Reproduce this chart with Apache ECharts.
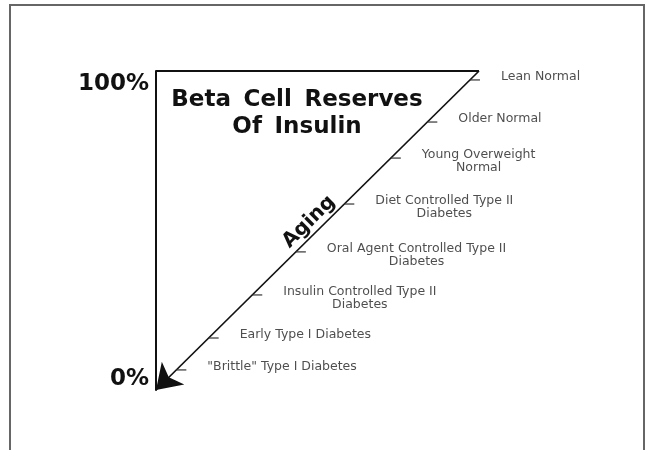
<!DOCTYPE html>
<html><head><meta charset="utf-8">
<script src="https://cdn.jsdelivr.net/npm/echarts@6/dist/echarts.min.js"></script>
<style>html,body{margin:0;padding:0;background:#fff}#c{width:648px;height:450px}</style>
</head><body><div id="c"></div>
<script>
// ---- data ----
const stageNames = [
  'Lean Normal',
  'Older Normal',
  'Young Overweight\nNormal',
  'Diet Controlled Type II\nDiabetes',
  'Oral Agent Controlled Type II\nDiabetes',
  'Insulin Controlled Type II\nDiabetes',
  'Early Type I Diabetes',
  '"Brittle" Type I Diabetes'
];
const reservePct = [97.2, 84.0, 72.7, 58.3, 43.3, 29.8, 16.3, 6.3];
const axisTickValues = [0, 100];
const axisTickLabels = ['0%', '100%'];
const titleLines = ['Beta Cell Reserves', 'Of Insulin'];
const arrowLabel = 'Aging';

// ---- chart ----
const wideTitle = s => s.replace(/ /g, ' \u2009');
const chart = echarts.init(document.getElementById('c'), null, {renderer: 'canvas'});
const labFont = {fontFamily: 'DejaVu Sans', fontSize: 12.5, color: '#222', lineHeight: 13};
const bigFont = {fontFamily: 'DejaVu Sans', fontWeight: 'bold', fontSize: 23, color: '#111'};
chart.setOption({
  animation: false,
  backgroundColor: '#fff',
  graphic: [{
    type: 'rect', silent: true,
    shape: {x: 10, y: 5, width: 634, height: 470},
    style: {fill: 'none', stroke: '#666', lineWidth: 2}
  }],
  title: {
    text: titleLines.map(wideTitle).join('\n'),
    left: 297, top: 87, padding: 0, textAlign: 'center',
    textStyle: Object.assign({}, bigFont, {lineHeight: 27})
  },
  grid: {left: 156, top: 71, width: 323, height: 319},
  xAxis: {type: 'value', min: 0, max: 1, show: false},
  yAxis: {
    type: 'value', min: 0, max: 100, interval: 100,
    axisLine: {show: true, lineStyle: {color: '#111', width: 2}},
    axisTick: {show: false}, splitLine: {show: false},
    axisLabel: Object.assign({}, bigFont, {
      margin: 7,
      formatter: v => {
        const i = axisTickValues.indexOf(v);
        if (i < 0) return '';
        return (v === 100 ? '{hi|' : '{lo|') + axisTickLabels[i] + '}';
      },
      rich: {
        hi: Object.assign({}, bigFont, {padding: [26, 0, 0, 0]}),
        lo: Object.assign({}, bigFont, {padding: [0, 0, 22, 0]})
      }
    })
  },
  series: [
    {
      type: 'lines', coordinateSystem: 'cartesian2d', silent: true,
      symbol: 'none',
      lineStyle: {color: '#111', width: 2, opacity: 1},
      data: [{coords: [[0, 100], [1, 100]]}]
    },
    {
      type: 'lines', coordinateSystem: 'cartesian2d', silent: true,
      symbol: ['none', 'arrow'], symbolSize: [15, 24],
      lineStyle: {color: '#111', width: 1.7, opacity: 1},
      label: {
        show: true, position: 'insideMiddleTop', distance: 2,
        formatter: arrowLabel,
        fontFamily: 'DejaVu Sans', fontWeight: 'bold', fontSize: 20, color: '#111'
      },
      data: [{coords: [[1, 100], [0, 0]]}]
    },
    {
      type: 'scatter', silent: true,
      symbol: 'rect', symbolSize: [10, 1.5], symbolOffset: [5, 0],
      itemStyle: {color: '#333'},
      label: Object.assign({}, labFont, {
        show: true, position: 'right', distance: 21,
        verticalAlign: 'top', offset: [0, -9.5],
        formatter: p => stageNames[p.dataIndex].split('\n').map(l => '{c|' + l + '}').join('\n'),
        rich: {c: Object.assign({}, labFont, {align: 'center'})}
      }),
      data: reservePct.map(p => [p / 100, p])
    }
  ]
});
</script>
</body></html>
